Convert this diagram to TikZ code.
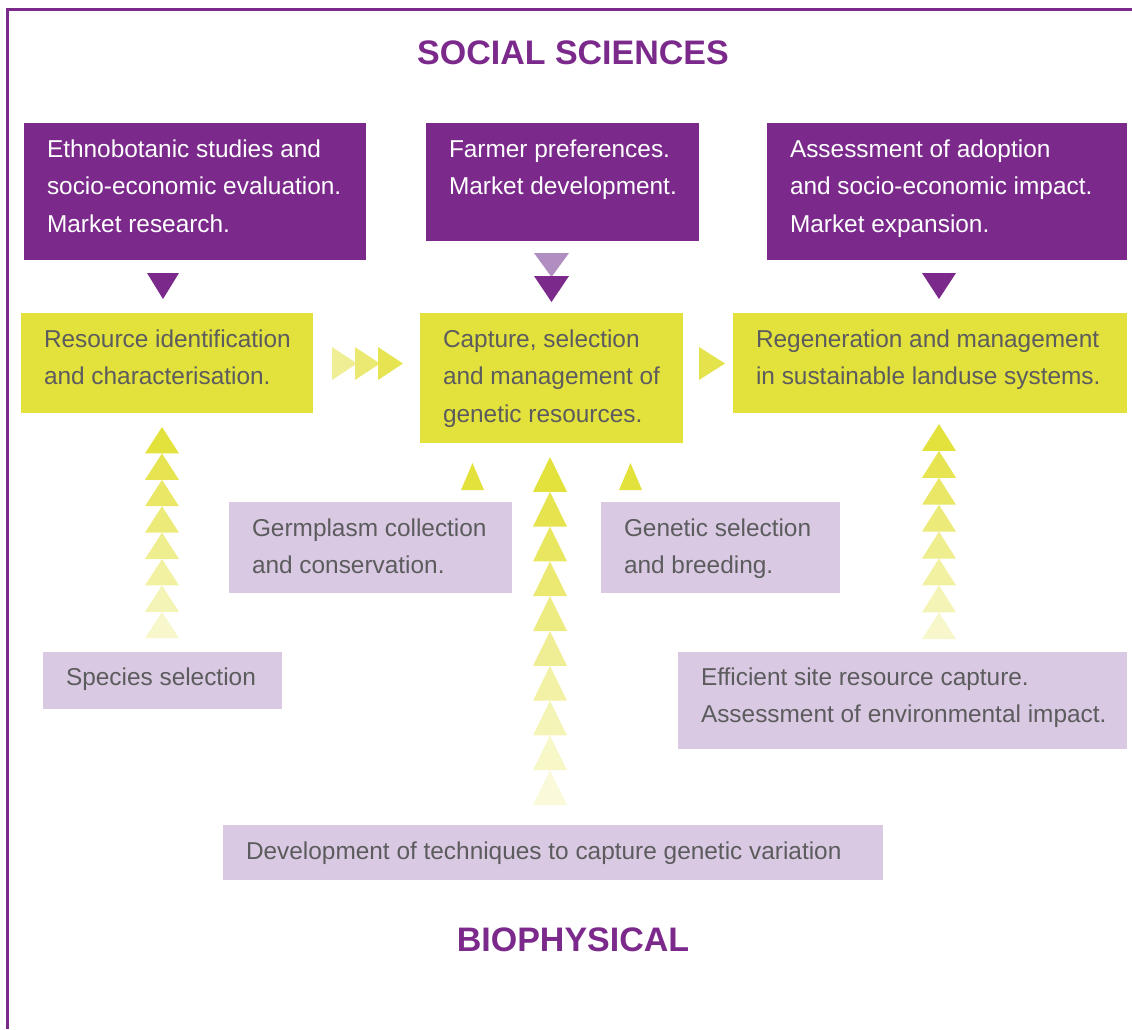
\documentclass[tikz,border=0pt]{standalone}
\usepackage{fontspec}
\setmainfont{Liberation Sans}
\usetikzlibrary{calc}
\definecolor{purp}{HTML}{7B2A8C}
\definecolor{lpurp}{HTML}{B18EC1}
\definecolor{ylw}{HTML}{E3E13C}
\definecolor{lav}{HTML}{D9C9E2}
\definecolor{txtgray}{HTML}{5C5C5E}
\begin{document}
\begin{tikzpicture}[x=1pt,y=-1pt,
  box/.style={inner sep=0pt, outer sep=0pt, anchor=north west},
  pbox/.style={box, fill=purp},
  ybox/.style={box, fill=ylw},
  lbox/.style={box, fill=lav},
  btext/.style={inner sep=0pt, outer sep=0pt, anchor=north west, align=left,
    font=\fontsize{24.4}{37.5}\selectfont, text=txtgray},
  wtext/.style={btext, text=white},
  titletext/.style={font=\fontsize{34}{40}\selectfont\bfseries, text=purp, inner sep=0pt}]
\useasboundingbox (0,0) rectangle (1132,1029);
% frame
\draw[purp, line width=3pt] (1132,9.5) -- (7.5,9.5) -- (7.5,1029);
% titles
\node[titletext] (ss) at (573,53) {SOCIAL SCIENCES};
\node[titletext] (bp) at (573,940) {BIOPHYSICAL};
% purple boxes
\node[pbox, minimum width=342, minimum height=137] (p1) at (24,123) {};
\node[pbox, minimum width=273, minimum height=118] (p2) at (426,123) {};
\node[pbox, minimum width=360, minimum height=137] (p3) at (767,123) {};
\node[wtext] (p1t) at ($(p1.north west)+(23,16.5)$) {Ethnobotanic studies and\\socio-economic evaluation.\\Market research.};
\node[wtext] (p2t) at ($(p2.north west)+(23,16.5)$) {Farmer preferences.\\Market development.};
\node[wtext] (p3t) at ($(p3.north west)+(23,16.5)$) {Assessment of adoption\\and socio-economic impact.\\Market expansion.};
% yellow boxes
\node[ybox, minimum width=292, minimum height=100] (y1) at (21,313) {};
\node[ybox, minimum width=263, minimum height=130] (y2) at (420,313) {};
\node[ybox, minimum width=394, minimum height=100] (y3) at (733,313) {};
\node[btext] (y1t) at ($(y1.north west)+(23,16.5)$) {Resource identification\\and characterisation.};
\node[btext] (y2t) at ($(y2.north west)+(23,16.5)$) {Capture, selection\\and management of\\genetic resources.};
\node[btext] (y3t) at ($(y3.north west)+(23,16.5)$) {Regeneration and management\\in sustainable landuse systems.};
% lavender boxes
\node[lbox, minimum width=283, minimum height=91] (l1) at (229,502) {};
\node[lbox, minimum width=239, minimum height=91] (l2) at (601,502) {};
\node[lbox, minimum width=239, minimum height=57] (l3) at (43,652) {};
\node[lbox, minimum width=449, minimum height=97] (l4) at (678,652) {};
\node[lbox, minimum width=660, minimum height=55] (l5) at (223,825) {};
\node[btext] (l1t) at ($(l1.north west)+(23,16.5)$) {Germplasm collection\\and conservation.};
\node[btext] (l2t) at ($(l2.north west)+(23,16.5)$) {Genetic selection\\and breeding.};
\node[btext] (l3t) at ($(l3.north west)+(23,15.5)$) {Species selection};
\node[btext] (l4t) at ($(l4.north west)+(23,15.5)$) {Efficient site resource capture.\\Assessment of environmental impact.};
\node[btext] (l5t) at ($(l5.north west)+(23,16.5)$) {Development of techniques to capture genetic variation};
% down arrows (purple)
\fill[purp] (147,273) -- (179,273) -- (163,299) -- cycle;
\fill[lpurp] (534,253) -- (569,253) -- (551.5,277) -- cycle;
\fill[purp] (534,276) -- (569,276) -- (551.5,302) -- cycle;
\fill[purp] (922,273) -- (956,273) -- (939,299) -- cycle;
% right arrows (yellow)
\fill[ylw!55] (332,347) -- (357,363.5) -- (332,380) -- cycle;
\fill[ylw!72] (355,347) -- (380,363.5) -- (355,380) -- cycle;
\fill[ylw!90] (378,347) -- (403,363.5) -- (378,380) -- cycle;
\fill[ylw!92] (699,347) -- (725,363.5) -- (699,380) -- cycle;
% small up arrows
\fill[ylw] (461,490) -- (484,490) -- (472.5,463) -- cycle;
\fill[ylw] (619,490) -- (642,490) -- (630.5,463) -- cycle;
% left stack
\foreach \i in {0,...,7}{
  \pgfmathsetmacro\c{100-\i*10.5}
  \fill[ylw!\c] (145,{427+26.4*(\i+1)}) -- (179,{427+26.4*(\i+1)}) -- (162,{427+26.4*\i}) -- cycle;
}
% right stack
\foreach \i in {0,...,7}{
  \pgfmathsetmacro\c{100-\i*10.5}
  \fill[ylw!\c] (922,{424+26.9*(\i+1)}) -- (956,{424+26.9*(\i+1)}) -- (939,{424+26.9*\i}) -- cycle;
}
% centre stack
\foreach \i in {0,...,9}{
  \pgfmathsetmacro\c{100-\i*9}
  \fill[ylw!\c] (533,{457+34.8*(\i+1)}) -- (567,{457+34.8*(\i+1)}) -- (550,{457+34.8*\i}) -- cycle;
}
\end{tikzpicture}
\end{document}
